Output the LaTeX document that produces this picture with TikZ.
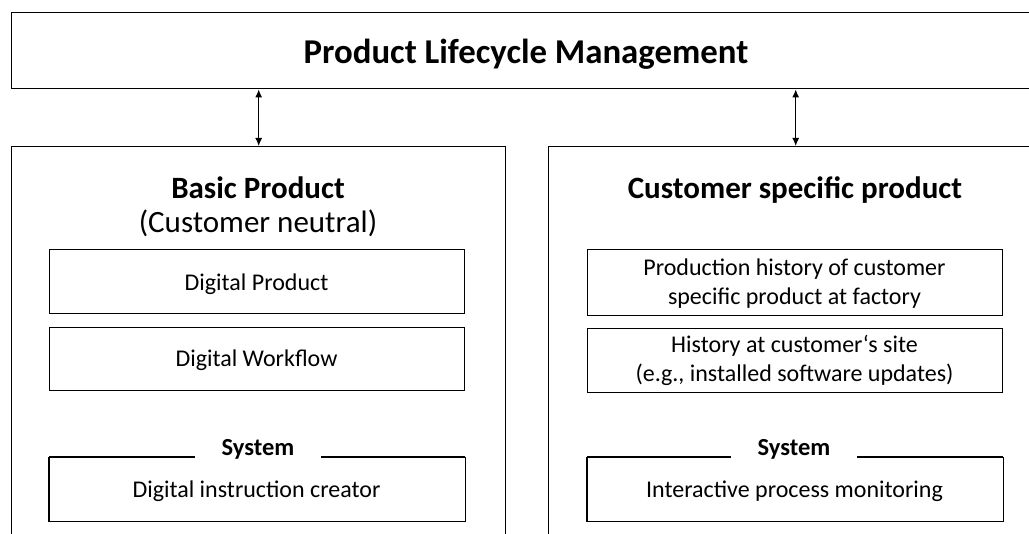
\documentclass[tikz,border=0pt]{standalone}
\usepackage{fontspec}
\setmainfont{Carlito}
\usetikzlibrary{arrows.meta}
\begin{document}
\begin{tikzpicture}[x=1bp,y=-1bp,
  line width=1.4bp,
  frame/.style={draw, rectangle, inner sep=0pt, anchor=north west},
  inbox/.style={rectangle, inner sep=0pt, anchor=north west, minimum width=415bp},
  txt/.style={anchor=base, inner sep=0pt, align=center,
    font=\fontsize{24bp}{29.5bp}\selectfont},
  title/.style={anchor=base, inner sep=0pt, font=\bfseries\fontsize{34.8bp}{40bp}\selectfont},
  head/.style={anchor=base, inner sep=0pt, font=\bfseries\fontsize{31bp}{36bp}\selectfont},
  sub/.style={anchor=base, inner sep=0pt, font=\fontsize{31bp}{36bp}\selectfont},
  syslbl/.style={anchor=base, inner ysep=0pt, inner xsep=26bp,
    font=\bfseries\fontsize{24.5bp}{28bp}\selectfont},
  link/.style={{Latex[length=8bp,width=7bp]}-{Latex[length=8bp,width=7bp]}, line width=1.2bp}
]
\useasboundingbox (0,0) rectangle (1029,534);
\clip (0,0) rectangle (1029,534);

% outer frames
\node[frame, minimum width=1040bp, minimum height=76bp] (plm) at (11,12) {};
\node[title] (plmtxt) at (526,64) {Product Lifecycle Management};
\node[frame, minimum width=494bp, minimum height=420bp] (basic) at (11,146) {};
\node[frame, minimum width=494bp, minimum height=420bp] (cust) at (548,146) {};

% links to PLM
\draw[link] (plm.south -| basic.north) -- (basic.north);
\draw[link] (plm.south -| cust.north) -- (cust.north);

% left column
\node[head] (bhead) at (258,199) {Basic Product};
\node[sub] (bsub) at (258,233) {(Customer neutral)};
\node[inbox, draw, minimum height=64bp] (dprod) at (49,249) {};
\node[txt] (dprodtxt) at (256.5,291) {Digital Product};
\node[inbox, draw, minimum height=63bp] (dflow) at (49,327) {};
\node[txt] (dflowtxt) at (256.5,367) {Digital Workflow};
\node[inbox, minimum height=63bp] (dic) at (49,457) {};
\node[txt] (dictxt) at (256.5,497) {Digital instruction creator};
\node[syslbl] (bsys) at (258,455) {System};

% right column
\node[head] (chead) at (795,199) {Customer specific product};
\node[inbox, draw, minimum height=66bp] (phist) at (587,249) {};
\node[txt] (phisttxt) at (794.5,305) {Production history of customer\\specific product at factory};
\node[inbox, draw, minimum height=64bp] (shist) at (587,328) {};
\node[txt] (shisttxt) at (794.5,382) {History at customer‘s site\\(e.g., installed software updates)};
\node[inbox, minimum height=63bp] (ipm) at (587,457) {};
\node[txt] (ipmtxt) at (794.5,497) {Interactive process monitoring};
\node[syslbl] (csys) at (794,455) {System};

% system boxes: open top edge around the label
\foreach \b/\l in {dic/bsys, ipm/csys} {
  \draw (\b.north west) -- (\b.south west) -- (\b.south east) -- (\b.north east);
  \draw (\b.north west) -- (\l.west |- \b.north);
  \draw (\l.east |- \b.north) -- (\b.north east);
}
\end{tikzpicture}
\end{document}
